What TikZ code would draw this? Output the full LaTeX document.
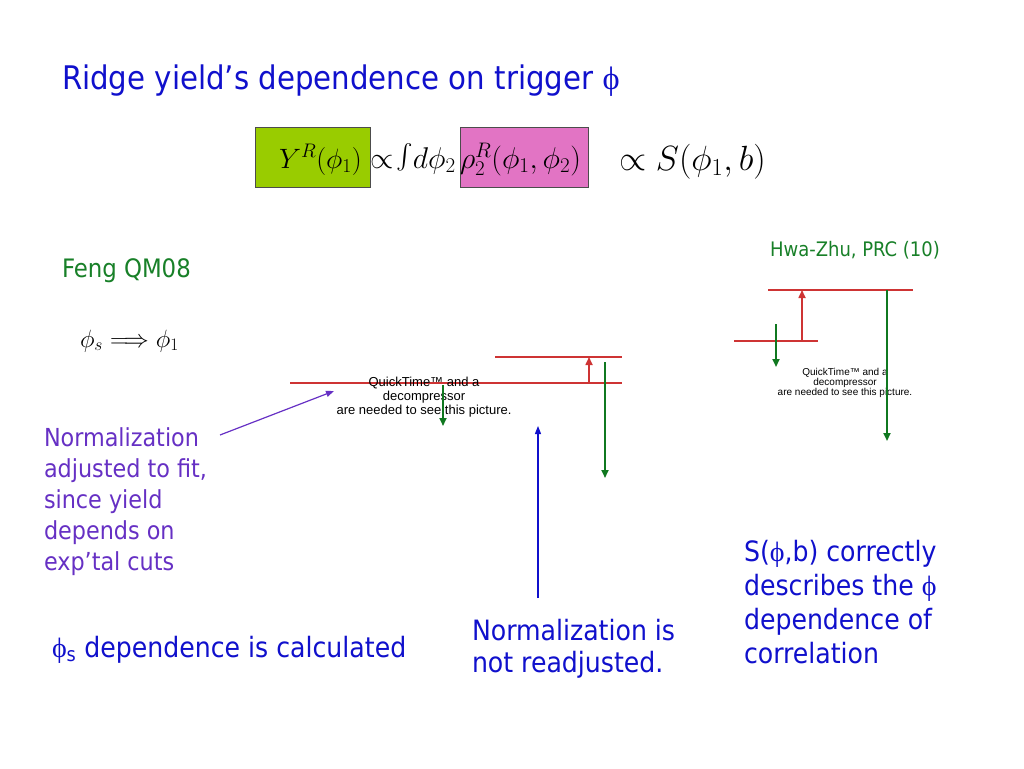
\RequirePackage{fix-cm}
\documentclass[tikz,border=0pt]{standalone}
\usepackage{amsmath}
\usepackage[no-math]{fontspec}
\setmainfont{DejaVu Sans Condensed}
\newfontfamily\symf{Liberation Serif}
\newfontfamily\qtf{Liberation Sans}
\usetikzlibrary{arrows.meta}
\definecolor{titleblue}{RGB}{16,16,204}
\definecolor{notepurple}{RGB}{102,48,196}
\definecolor{refgreen}{RGB}{24,128,40}
\definecolor{arrowgreen}{RGB}{16,120,32}
\definecolor{levelred}{RGB}{206,52,52}
\definecolor{boxgreen}{RGB}{153,204,0}
\definecolor{boxpink}{RGB}{226,116,196}
\newcommand{\ph}{{\symf ϕ}}

\begin{document}
\begin{tikzpicture}[x=1pt,y=-1pt,
  every node/.style={inner sep=0pt,outer sep=0pt},
  txt/.style={anchor=base west,font=\fontsize{#1}{#1}\selectfont},
  lines/.style={anchor=north west,align=left,font=\fontsize{24.8}{31}\selectfont},
  qt/.style={align=center,text=black},
  level/.style={levelred,line width=1.1pt},
  up/.style={levelred,line width=1.6pt,-{Triangle[length=8pt,width=7pt]}},
  down/.style={arrowgreen,line width=1.8pt,-{Triangle[length=8pt,width=7pt]}}]
  \useasboundingbox (0,0) rectangle (1024,768);
  %title and formula
  \node[txt=32.5,text=titleblue] (title) at (62,89) {Ridge yield’s dependence on trigger \ph};
  \node[draw=black!70,fill=boxgreen,minimum width=115pt,minimum height=60pt,anchor=north west] (gbox) at (255,127) {};
  \node[draw=black!70,fill=boxpink,minimum width=128pt,minimum height=60pt,anchor=north west] (pbox) at (460,127) {};
  \node[txt=28] (yr) at (279,168) {$Y^R(\phi_1)$};
  \node[txt=30] (intg) at (370,168) {$\propto$\hspace{3pt}{\fontsize{44}{44}\selectfont$\int$}$d\phi_2$};
  \node[txt=30] (rho) at (460,168) {$\rho_2^R(\phi_1,\phi_2)$};
  \node[txt=35] (sfun) at (619,170) {$\propto S(\phi_1,b)$};
  %left side
  \node[txt=25.4,text=refgreen] (feng) at (62,277) {Feng QM08};
  \node[txt=25] (phis) at (80,347) {$\phi_s\Longrightarrow\phi_1$};
  \node[lines,text=notepurple] (norm) at (44,428) {Normalization\\adjusted to fit,\\since yield\\depends on\\exp’tal cuts};
  \node[txt=28,text=titleblue] (calc) at (52,657) {\ph\textsubscript{s} dependence is calculated};
  %middle picture
  \coordinate (lowL) at (290,383);
  \coordinate (lowR) at (622,383);
  \coordinate (highL) at (495,357);
  \coordinate (highR) at (622,357);
  \draw[level] (lowL) -- (lowR);
  \draw[level] (highL) -- (highR);
  \node[qt,font=\qtf\fontsize{13}{14}\selectfont] (qtmid) at (424,397) {QuickTime™ and a\\decompressor\\are needed to see this picture.};
  \draw[up] (589,383) -- (589,357);
  \draw[down] (443,385) -- (443,426);
  \draw[down] (605,362) -- (605,478);
  \coordinate (normtip) at (334,391);
  \draw[notepurple,line width=1.2pt,-{Triangle[length=8pt,width=6pt]}] (220,435) -- (normtip);
  \node[lines,font=\fontsize{28}{32}\selectfont,text=titleblue] (notre) at (472,619) {Normalization is\\not readjusted.};
  \draw[titleblue,line width=1.2pt,-{Triangle[length=8pt,width=6pt]}] (538,598) -- (538,426);
  %right picture
  \node[txt=20,text=refgreen] (hwa) at (770,256) {Hwa-Zhu, PRC (10)};
  \draw[level] (768,290) -- (913,290);
  \draw[level] (734,341) -- (818,341);
  \node[qt,font=\qtf\fontsize{10}{10}\selectfont] (qtright) at (845,383) {QuickTime™ and a\\decompressor\\are needed to see this picture.};
  \draw[up] (802,341) -- (802,290);
  \draw[down] (776,324) -- (776,367);
  \draw[down] (887,290) -- (887,441);
  \node[lines,font=\fontsize{28}{34}\selectfont,text=titleblue] (sdesc) at (744,540) {S(\ph,b) correctly\\describes the \ph\\dependence of\\correlation};
\end{tikzpicture}
\end{document}
